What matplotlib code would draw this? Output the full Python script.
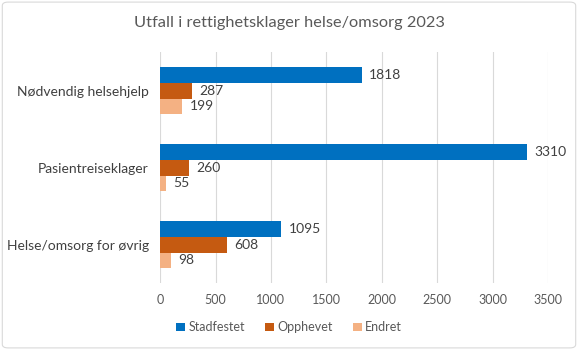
import matplotlib.pyplot as plt
import numpy as np
from matplotlib.patches import FancyBboxPatch

categories = ["Nødvendig helsehjelp", "Pasientreiseklager", "Helse/omsorg for øvrig"]
series = ["Stadfestet", "Opphevet", "Endret"]
stadfestet = [1818, 3310, 1095]
opphevet = [287, 260, 608]
endret = [199, 55, 98]
colors = ["#0070C0", "#C55A11", "#F4B183"]
xticks = [0, 500, 1000, 1500, 2000, 2500, 3000, 3500]

plt.rcParams["font.family"] = ["Lato", "DejaVu Sans"]
txt = "#595959"

fig = plt.figure(figsize=(5.78, 3.5), dpi=100)
ax = fig.add_axes([0.277, 0.191, 0.671, 0.66])

y = np.arange(len(categories))
h = 0.205
values = [stadfestet, opphevet, endret]
for i, (name, vals, c) in enumerate(zip(series, values, colors)):
    pos = y + (i - 1) * h
    ax.barh(pos, vals, height=h, color=c, label=name, zorder=3)
    for p, v in zip(pos, vals):
        ax.text(v + 65, p, str(v), va="center", ha="left", fontsize=10, color="#404040")

ax.set_ylim(len(categories) - 0.5, -0.5)
ax.set_xlim(0, 3500)
ax.set_xticks(xticks)
ax.set_yticks(y)
ax.set_yticklabels(categories, fontsize=10, color="#404040")
ax.tick_params(axis="x", labelsize=9, colors=txt, length=0, pad=8)
ax.tick_params(axis="y", length=0, pad=8)
ax.grid(axis="x", color="#d9d9d9", linewidth=0.8, zorder=0)
for s in ax.spines.values():
    s.set_visible(False)

fig.text(0.5, 0.935, "Utfall i rettighetsklager helse/omsorg 2023", ha="center", va="center",
         fontsize=11.8, color=txt)
fig.legend(loc="center", bbox_to_anchor=(0.5, 0.065), ncol=3, frameon=False, fontsize=9,
           handlelength=0.7, handleheight=0.7, handletextpad=0.3, columnspacing=1.6,
           labelcolor=txt)

fig.patches.append(FancyBboxPatch((0.004, 0.006), 0.992, 0.988, boxstyle="round,pad=0,rounding_size=0.01",
                                  transform=fig.transFigure, fill=False, edgecolor="#d9d9d9", linewidth=0.8))

fig.savefig("out.png", dpi=100)
